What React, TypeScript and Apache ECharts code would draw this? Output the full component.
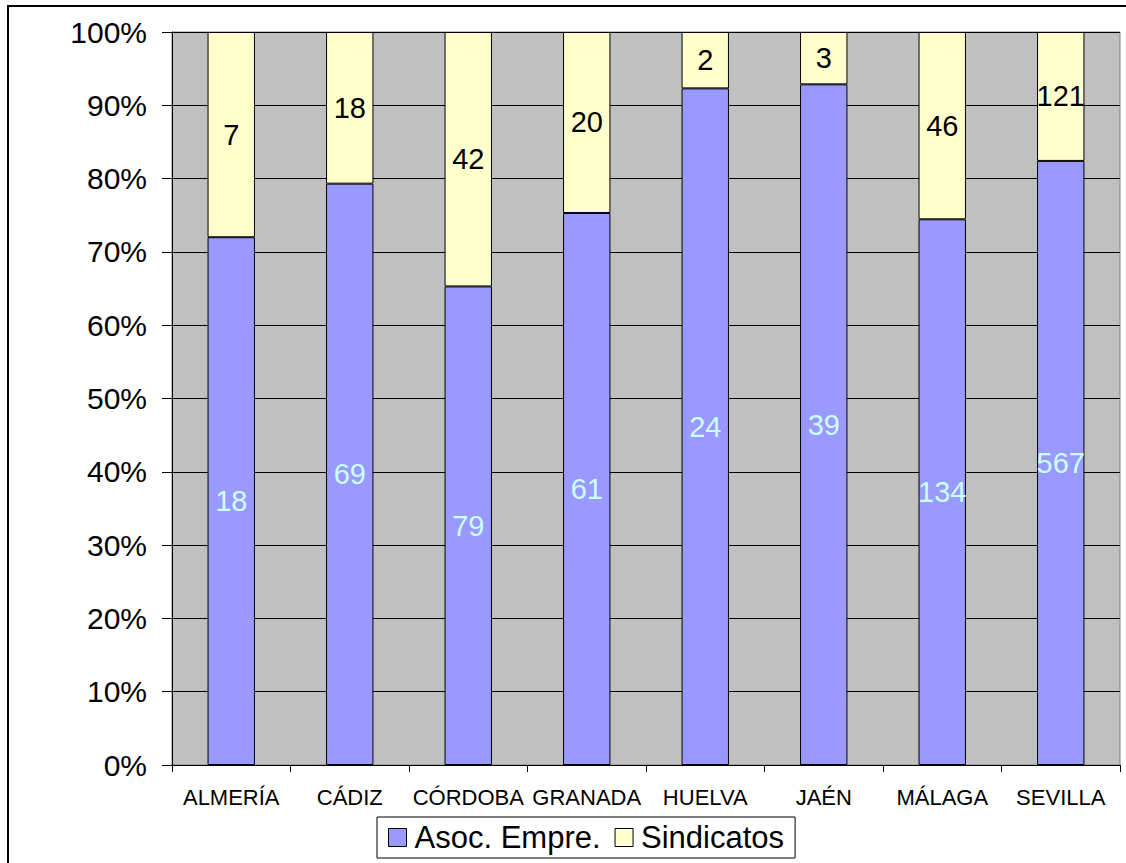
import React, { useEffect, useRef } from "react";
import * as echarts from "echarts";

const categories = ["ALMERÍA", "CÁDIZ", "CÓRDOBA", "GRANADA", "HUELVA", "JAÉN", "MÁLAGA", "SEVILLA"];
const asocEmpre = [18, 69, 79, 61, 24, 39, 134, 567];
const sindicatos = [7, 18, 42, 20, 2, 3, 46, 121];
const yTicks = [0, 10, 20, 30, 40, 50, 60, 70, 80, 90, 100];

const FONT = "'Liberation Sans', Arial, Helvetica, sans-serif";

export default function App() {
  const ref = useRef<HTMLDivElement>(null);
  useEffect(() => {
    if (!ref.current) return;
    const chart = echarts.init(ref.current, null, { renderer: "svg" });
    const totals = categories.map((_, i) => asocEmpre[i] + sindicatos[i]);
    const pctA = asocEmpre.map((v, i) => (v / totals[i]) * 100);
    const pctS = sindicatos.map((v, i) => (v / totals[i]) * 100);
    chart.setOption({
      animation: false,
      backgroundColor: "#ffffff",
      textStyle: { fontFamily: FONT },
      grid: {
        left: 172,
        top: 32,
        right: 6,
        bottom: 98,
        show: true,
        backgroundColor: "#C0C0C0",
        borderColor: "#808080",
        borderWidth: 1,
      },
      legend: {
        left: 377,
        top: 817,
        padding: [5, 11, 5, 11],
        itemGap: 14,
        itemWidth: 18,
        itemHeight: 18,
        icon: "rect",
        borderColor: "#000",
        borderWidth: 1,
        backgroundColor: "#fff",
        textStyle: { fontSize: 31, color: "#000", fontFamily: FONT, padding: [0, 0, 0, 3] },
        data: [
          { name: "Asoc. Empre.", itemStyle: { color: "#9999FF", borderColor: "#000", borderWidth: 1 } },
          { name: "Sindicatos", itemStyle: { color: "#FFFFCC", borderColor: "#000", borderWidth: 1 } },
        ],
      },
      xAxis: {
        type: "category",
        data: categories,
        axisLine: { show: true, lineStyle: { color: "#000", width: 1 } },
        axisTick: { show: true, length: 7, lineStyle: { color: "#000" } },
        axisLabel: { fontSize: 22, color: "#000", margin: 21, fontFamily: FONT, interval: 0 },
        splitLine: { show: false },
      },
      yAxis: {
        type: "value",
        min: yTicks[0],
        max: yTicks[yTicks.length - 1],
        interval: 10,
        axisLine: { show: true, lineStyle: { color: "#000", width: 1 } },
        axisTick: { show: true, length: 10, lineStyle: { color: "#000" } },
        axisLabel: { fontSize: 30, color: "#000", margin: 25, fontFamily: FONT, formatter: "{value}%" },
        splitLine: { show: true, lineStyle: { color: "#000", width: 1 } },
      },
      series: [
        {
          name: "Asoc. Empre.",
          type: "bar",
          stack: "total",
          barWidth: "40%",
          data: pctA,
          itemStyle: { color: "#9999FF", borderColor: "#000", borderWidth: 1 },
          label: {
            show: true,
            position: "inside",
            fontSize: 29,
            color: "#CCFFFF",
            fontFamily: FONT,
            formatter: (p: any) => String(asocEmpre[p.dataIndex]),
          },
        },
        {
          name: "Sindicatos",
          type: "bar",
          stack: "total",
          barWidth: "40%",
          data: pctS,
          itemStyle: { color: "#FFFFCC", borderColor: "#000", borderWidth: 1 },
          label: {
            show: true,
            position: "inside",
            fontSize: 29,
            color: "#000",
            fontFamily: FONT,
            formatter: (p: any) => String(sindicatos[p.dataIndex]),
          },
        },
      ],
      graphic: [
        {
          type: "rect",
          shape: { x: 8, y: 6, width: 1140, height: 900 },
          style: { fill: "none", stroke: "#000", lineWidth: 2 },
          silent: true,
          z: 100,
        },
      ],
    });
    return () => chart.dispose();
  }, []);
  return (
    <div
      ref={ref}
      style={{ position: "fixed", left: 0, top: 0, width: 1126, height: 863 }}
    />
  );
}
